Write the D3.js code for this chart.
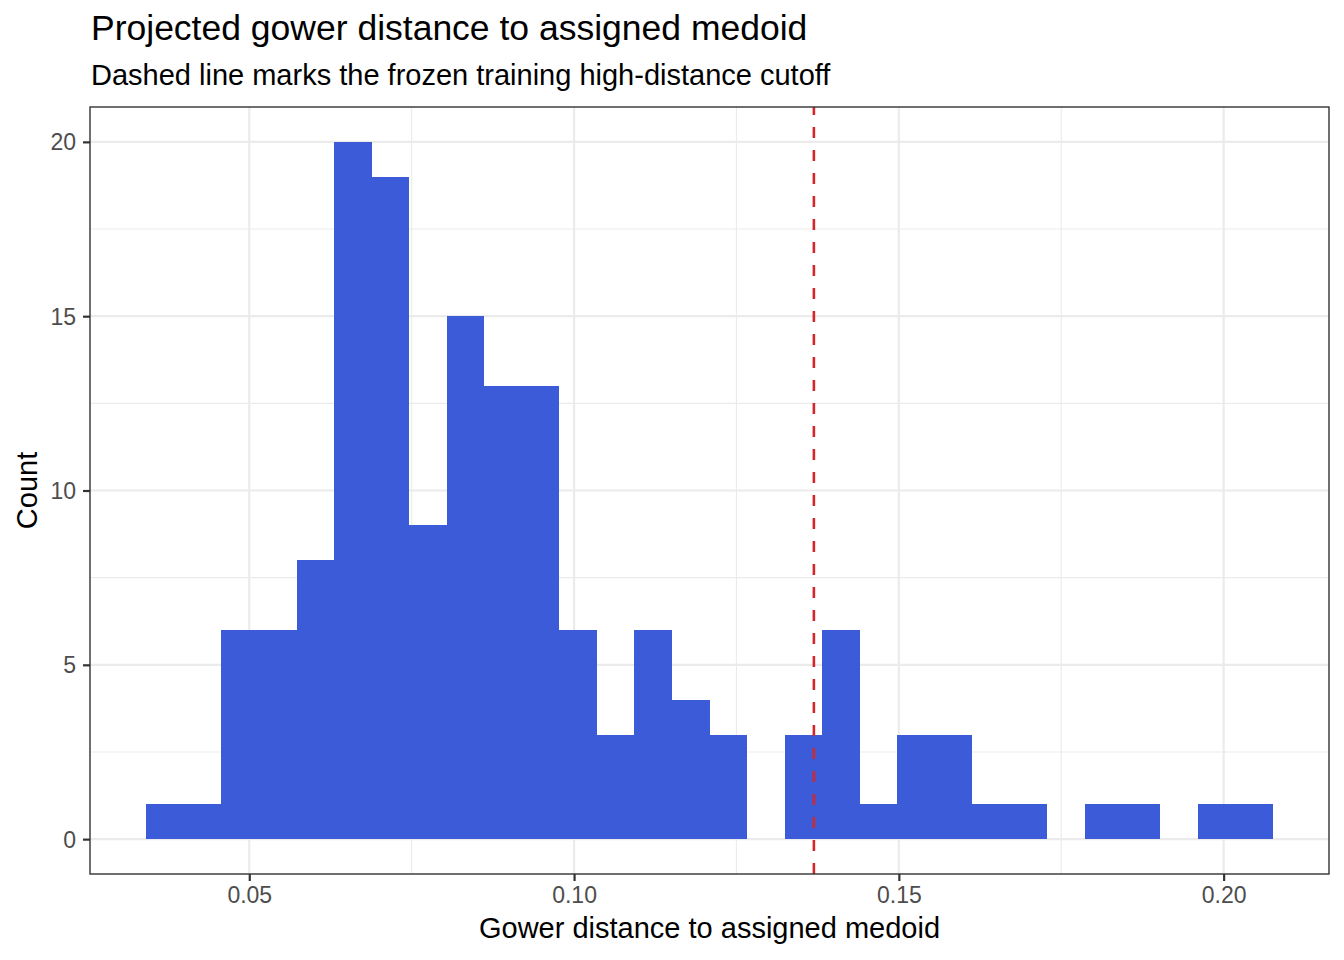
<!DOCTYPE html>
<html>
<head>
<meta charset="utf-8">
<script src="https://cdn.jsdelivr.net/npm/d3@7"></script>
<style>
  html, body { margin: 0; padding: 0; background: #ffffff; }
  svg { display: block; font-family: "Liberation Sans", Arial, Helvetica, sans-serif; }
</style>
</head>
<body>
<svg id="chart" width="1344" height="960"></svg>
<script>
// ---- data ----
const binEdges = [0.03415, 0.03993, 0.04571, 0.05149, 0.05727, 0.06305, 0.06883, 0.07461,
  0.08039, 0.08617, 0.09195, 0.09773, 0.10351, 0.10929, 0.11507, 0.12085, 0.12663,
  0.13241, 0.13819, 0.14397, 0.14975, 0.15553, 0.16131, 0.16709, 0.17287, 0.17865,
  0.18443, 0.19021, 0.19599, 0.20177, 0.20755];
const counts = [1, 1, 6, 6, 8, 20, 19, 9, 15, 13, 13, 6, 3, 6, 4, 3, 0, 3, 6, 1, 3, 3, 1, 1, 0, 1, 1, 0, 1, 1];
const cutoff = 0.13692;
const xTicks = [0.05, 0.10, 0.15, 0.20];
const xMinor = [0.075, 0.125, 0.175];
const yTicks = [0, 5, 10, 15, 20];
const yMinor = [2.5, 7.5, 12.5, 17.5];
const title = "Projected gower distance to assigned medoid";
const subtitle = "Dashed line marks the frozen training high-distance cutoff";
const xTitle = "Gower distance to assigned medoid";
const yTitle = "Count";

// ---- layout ----
const panel = { left: 90, right: 1329, top: 107, bottom: 874 };
const svg = d3.select("#chart");

const x = d3.scaleLinear().domain([0.02548, 0.21622]).range([panel.left, panel.right]);
const y = d3.scaleLinear().domain([-1, 21]).range([panel.bottom, panel.top]);

const bins = counts.map((c, i) => ({ x0: binEdges[i], x1: binEdges[i + 1], n: c }));

// panel background
svg.append("rect")
  .attr("x", panel.left).attr("y", panel.top)
  .attr("width", panel.right - panel.left).attr("height", panel.bottom - panel.top)
  .attr("fill", "#ffffff");

const grid = svg.append("g");
// minor grid
grid.selectAll(".vminor").data(xMinor).join("line")
  .attr("x1", d => x(d)).attr("x2", d => x(d))
  .attr("y1", panel.top).attr("y2", panel.bottom)
  .attr("stroke", "#EBEBEB").attr("stroke-width", 1.1);
grid.selectAll(".hminor").data(yMinor).join("line")
  .attr("y1", d => y(d)).attr("y2", d => y(d))
  .attr("x1", panel.left).attr("x2", panel.right)
  .attr("stroke", "#EBEBEB").attr("stroke-width", 1.1);
// major grid
grid.selectAll(".vmajor").data(xTicks).join("line")
  .attr("x1", d => x(d)).attr("x2", d => x(d))
  .attr("y1", panel.top).attr("y2", panel.bottom)
  .attr("stroke", "#EBEBEB").attr("stroke-width", 2.2);
grid.selectAll(".hmajor").data(yTicks).join("line")
  .attr("y1", d => y(d)).attr("y2", d => y(d))
  .attr("x1", panel.left).attr("x2", panel.right)
  .attr("stroke", "#EBEBEB").attr("stroke-width", 2.2);

// bars
svg.append("g").selectAll("rect").data(bins.filter(d => d.n > 0)).join("rect")
  .attr("x", d => x(d.x0))
  .attr("width", d => x(d.x1) - x(d.x0))
  .attr("y", d => y(d.n))
  .attr("height", d => y(0) - y(d.n))
  .attr("fill", "#3C5BD9")
  .attr("shape-rendering", "crispEdges");

// cutoff line (drawn from bottom so the dash pattern starts there)
svg.append("line")
  .attr("x1", x(cutoff)).attr("x2", x(cutoff))
  .attr("y1", panel.bottom).attr("y2", panel.top)
  .attr("stroke", "#D2272B").attr("stroke-width", 2.6)
  .attr("stroke-dasharray", "11,12");

// panel border
svg.append("rect")
  .attr("x", panel.left).attr("y", panel.top)
  .attr("width", panel.right - panel.left).attr("height", panel.bottom - panel.top)
  .attr("fill", "none").attr("stroke", "#333333").attr("stroke-width", 1.4);

// x axis
const xAxis = d3.axisBottom(x).tickValues(xTicks).tickFormat(d3.format(".2f")).tickSize(7).tickPadding(4);
const gx = svg.append("g").attr("transform", `translate(0,${panel.bottom})`).call(xAxis);
gx.select(".domain").remove();
gx.selectAll(".tick line").attr("stroke", "#333333").attr("stroke-width", 2.2);
gx.selectAll(".tick text").attr("fill", "#4D4D4D").attr("font-size", 23)
  .attr("font-family", "Liberation Sans, Arial, sans-serif").attr("dy", "0.71em").attr("y", 13);

// y axis
const yAxis = d3.axisLeft(y).tickValues(yTicks).tickFormat(d3.format("d")).tickSize(7).tickPadding(6);
const gy = svg.append("g").attr("transform", `translate(${panel.left},0)`).call(yAxis);
gy.select(".domain").remove();
gy.selectAll(".tick line").attr("stroke", "#333333").attr("stroke-width", 2.2);
gy.selectAll(".tick text").attr("fill", "#4D4D4D").attr("font-size", 23)
  .attr("font-family", "Liberation Sans, Arial, sans-serif").attr("x", -14).attr("dy", "0.35em");

// titles
svg.append("text").attr("x", 91).attr("y", 40)
  .attr("font-size", 35.5).attr("fill", "#000").text(title);
svg.append("text").attr("x", 91).attr("y", 85)
  .attr("font-size", 29).attr("fill", "#000").text(subtitle);
svg.append("text").attr("x", (panel.left + panel.right) / 2).attr("y", 938)
  .attr("text-anchor", "middle").attr("font-size", 29).attr("fill", "#000").text(xTitle);
svg.append("text")
  .attr("transform", `translate(37,${(panel.top + panel.bottom) / 2}) rotate(-90)`)
  .attr("text-anchor", "middle").attr("font-size", 29).attr("fill", "#000").text(yTitle);
</script>
</body>
</html>
